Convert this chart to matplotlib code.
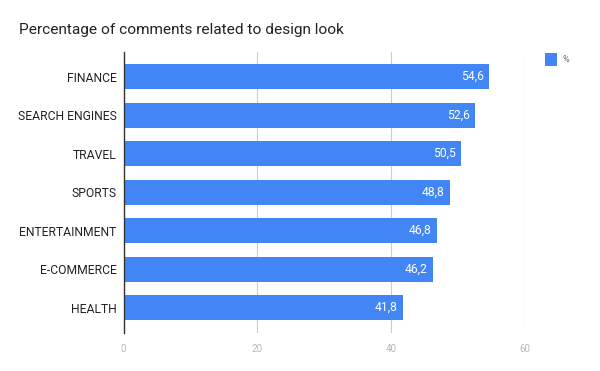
import matplotlib.pyplot as plt

plt.rcParams['font.family'] = ['Roboto', 'DejaVu Sans']

categories = ["FINANCE", "SEARCH ENGINES", "TRAVEL", "SPORTS",
              "ENTERTAINMENT", "E-COMMERCE", "HEALTH"]
values = [54.6, 52.6, 50.5, 48.8, 46.8, 46.2, 41.8]
xticks = [0, 20, 40, 60]
blue = "#4285F4"

fig = plt.figure(figsize=(6, 3.71), dpi=100)
ax = fig.add_axes([0.206, 0.1024, 0.669, 0.7576])

pos = list(range(len(categories)))
ax.barh(pos, values, height=0.65, color=blue, label="%")
for p, v in zip(pos, values):
    ax.text(v - 0.8, p, f"{v:.1f}".replace(".", ","), color="white",
            ha="right", va="center", fontsize=8.7)

ax.set_xlim(0, 60)
ax.set_ylim(6.66, -0.64)
ax.set_yticks(pos)
ax.set_yticklabels(categories, fontsize=8.7, color="#222222")
ax.set_xticks(xticks)
ax.set_xticklabels([str(t) for t in xticks], fontsize=7, color="#b7b7b7")
ax.tick_params(axis="both", length=0)
ax.tick_params(axis="y", pad=5)
ax.tick_params(axis="x", pad=8)
ax.grid(axis="x", color="#cccccc", linewidth=0.8)
ax.set_axisbelow(True)
for s in ["top", "right", "bottom"]:
    ax.spines[s].set_visible(False)
ax.spines["left"].set_color("#333333")
ax.spines["left"].set_linewidth(1)
ax.spines["left"].set_zorder(3)

fig.text(0.032, 0.92, "Percentage of comments related to design look",
         fontsize=11.1, color="#222222", va="center")

leg = fig.legend(loc="upper left", bbox_to_anchor=(0.908, 0.857), frameon=False,
                 fontsize=6.5, handlelength=1.35, handleheight=1.75,
                 handletextpad=0.6, borderpad=0, borderaxespad=0)
for t in leg.get_texts():
    t.set_color("#666666")

fig.savefig("out.png", dpi=100)
